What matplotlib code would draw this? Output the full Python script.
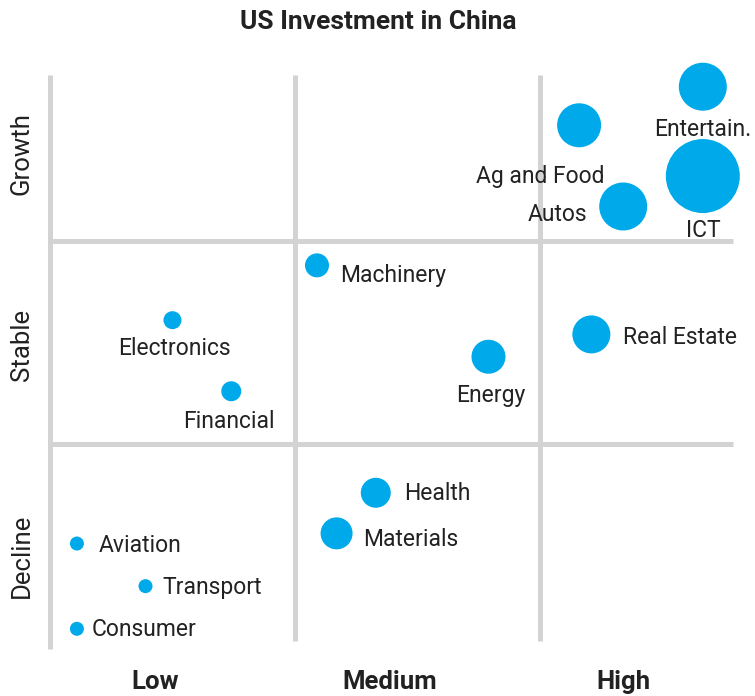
import matplotlib.pyplot as plt

# investment level (0-3 = low..high band) and growth (0-3 = decline..growth)
sectors = ["Entertain.", "Ag and Food", "ICT", "Autos", "Machinery", "Electronics",
           "Financial", "Energy", "Real Estate", "Health", "Materials",
           "Aviation", "Transport", "Consumer"]
invest = [2.665, 2.16, 2.665, 2.34, 1.09, 0.50, 0.74, 1.79, 2.21, 1.33, 1.17, 0.11, 0.39, 0.11]
growth = [2.76, 2.57, 2.32, 2.17, 1.88, 1.61, 1.26, 1.43, 1.54, 0.76, 0.56, 0.51, 0.30, 0.09]
size = [24, 22, 37, 24, 12, 9, 10, 17, 19, 15, 16, 7, 7, 7]

# label offsets (data units) and alignment
lab_dx = [0.0, -0.16, 0.0, -0.27, 0.095, 0.01, -0.01, 0.01, 0.13, 0.115, 0.11, 0.09, 0.07, 0.06]
lab_dy = [-0.21, -0.25, -0.27, -0.04, -0.05, -0.14, -0.15, -0.19, -0.015, -0.005, -0.03, -0.01, -0.005, -0.005]
lab_ha = ["center", "center", "center", "center", "left", "center", "center", "center",
          "left", "left", "left", "left", "left", "left"]

x_levels = ["Low", "Medium", "High"]
y_levels = ["Decline", "Stable", "Growth"]

plt.rcParams['font.family'] = ['Roboto', 'DejaVu Sans']

blue = "#00aaea"
grey = "#d3d3d3"
ink = "#222222"

fig = plt.figure(figsize=(7.55, 6.96), dpi=100)
ax = fig.add_axes([0, 0, 1, 1])
ax.set_xlim(-0.204, 2.878)
ax.set_ylim(-0.241, 3.187)
ax.axis("off")

# quadrant grid
ax.plot([0, 0], [-0.01, 2.82], color=grey, lw=3.6, solid_capstyle="butt", zorder=1)
for xv in [1, 2]:
    ax.plot([xv, xv], [0.03, 2.82], color=grey, lw=3.6, solid_capstyle="butt", zorder=1)
for yv in [1, 2]:
    ax.plot([0, 2.79], [yv, yv], color=grey, lw=3.6, solid_capstyle="butt", zorder=1)

s = [(2 * r * 0.72) ** 2 for r in size]
ax.scatter(invest, growth, s=s, color=blue, edgecolors="none", zorder=3)

for n, x, y, dx, dy, ha in zip(sectors, invest, growth, lab_dx, lab_dy, lab_ha):
    ax.text(x + dx, y + dy, n, ha=ha, va="center", fontsize=16.5, color=ink, zorder=4)

for i, t in enumerate(x_levels):
    ax.text(0.43 + i * 0.955, -0.17, t, ha="center", va="center", fontsize=18.5,
            fontweight="bold", color=ink)
for i, t in enumerate(y_levels):
    ax.text(-0.115, [0.45, 1.49, 2.43][i], t, ha="center", va="center", rotation=90,
            fontsize=18.5, color=ink)

ax.text(1.34, 3.08, "US Investment in China", ha="center", va="center", fontsize=19,
        fontweight="bold", color=ink)

fig.savefig("out.png", dpi=100)
